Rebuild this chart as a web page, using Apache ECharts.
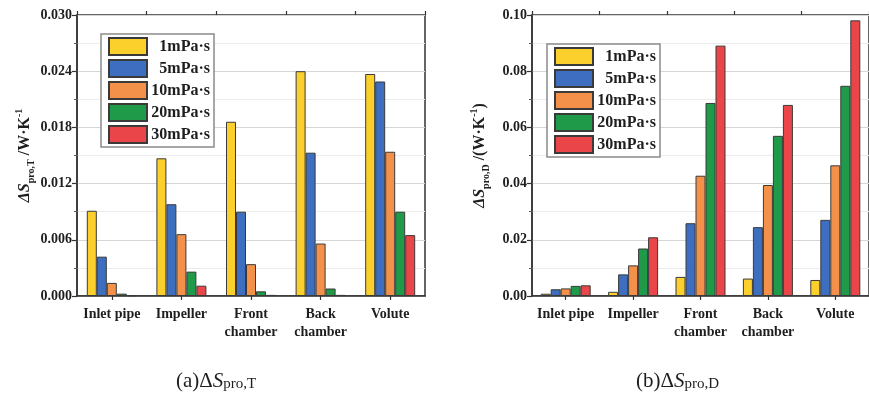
<!DOCTYPE html>
<html>
<head>
<meta charset="utf-8">
<script src="https://cdn.jsdelivr.net/npm/echarts@6/dist/echarts.min.js"></script>
<style>
  html, body { margin: 0; padding: 0; background: #fff; }
  #chart { width: 869px; height: 405px; }
</style>
</head>
<body>
<div id="chart"></div>
<script>
// Pump components on the x axis
const categories = ['Inlet pipe', 'Impeller', 'Front\nchamber', 'Back\nchamber', 'Volute'];
// Fluid viscosities (one bar series each)
const viscosities = ['1mPa·s', '5mPa·s', '10mPa·s', '20mPa·s', '30mPa·s'];
const barColors = ['#FBCF2C', '#3D6EC0', '#F3914B', '#1E9A48', '#EA4548'];

// (a) temperature-gradient entropy production, W/K
const sT_1  = [0.0091, 0.0147, 0.0186, 0.0240, 0.0237];
const sT_5  = [0.0042, 0.0098, 0.0090, 0.0153, 0.0229];
const sT_10 = [0.0014, 0.0066, 0.0034, 0.0056, 0.0154];
const sT_20 = [0.00025, 0.0026, 0.0005, 0.0008, 0.0090];
const sT_30 = [0.00008, 0.0011, 0.00012, 0.00012, 0.0065];

// (b) dissipation entropy production, W/K
const sD_1  = [0.0008, 0.0015, 0.0068, 0.0062, 0.0057];
const sD_5  = [0.0024, 0.0077, 0.0259, 0.0245, 0.0271];
const sD_10 = [0.0027, 0.0109, 0.0428, 0.0395, 0.0465];
const sD_20 = [0.0036, 0.0169, 0.0687, 0.0570, 0.0748];
const sD_30 = [0.0038, 0.0209, 0.0891, 0.0680, 0.0981];

// y-axis ranges
const yT = { max: 0.030, interval: 0.006, digits: 3 };
const yD = { max: 0.10, interval: 0.02, digits: 2 };

const SERIF = '"Liberation Serif", "DejaVu Serif", serif';
const INK = '#1e1e1e';

const seriesT = [sT_1, sT_5, sT_10, sT_20, sT_30];
const seriesD = [sD_1, sD_5, sD_10, sD_20, sD_30];

function nameRich() {
  return {
    d: { fontFamily: SERIF, fontSize: 16, fontWeight: 'bold', fontStyle: 'italic', color: INK, lineHeight: 22, verticalAlign: 'middle' },
    s: { fontFamily: SERIF, fontSize: 10, fontWeight: 'bold', color: INK, lineHeight: 20, verticalAlign: 'bottom' },
    n: { fontFamily: SERIF, fontSize: 16, fontWeight: 'bold', color: INK, lineHeight: 22, verticalAlign: 'middle' },
    p: { fontFamily: SERIF, fontSize: 10, fontWeight: 'bold', color: INK, lineHeight: 22, verticalAlign: 'top' }
  };
}

function yAxis(gridIndex, cfg, name) {
  return {
    type: 'value', gridIndex: gridIndex,
    min: 0, max: cfg.max, interval: cfg.interval,
    name: name, nameLocation: 'middle', nameRotate: 90, nameGap: 41,
    nameTextStyle: { rich: nameRich() },
    axisLine: { show: true, lineStyle: { color: '#333', width: 1.5 } },
    axisTick: { show: true, inside: false, length: 5, lineStyle: { color: '#333', width: 1.2 } },
    minorTick: { show: true, splitNumber: 2, length: 3, lineStyle: { color: '#555', width: 1 } },
    splitLine: { show: true, lineStyle: { color: '#d6d6d6', width: 1 } },
    minorSplitLine: { show: true, lineStyle: { color: '#ececec', width: 1 } },
    axisLabel: {
      fontFamily: SERIF, fontSize: 14, fontWeight: 'bold', color: INK, margin: 5,
      formatter: v => v.toFixed(cfg.digits)
    }
  };
}

function xAxes(gridIndex) {
  return [
    {
      type: 'category', gridIndex: gridIndex, data: categories,
      axisLine: { show: true, lineStyle: { color: '#333', width: 1.5 } },
      axisTick: { show: true, alignWithLabel: true, length: 4, lineStyle: { color: '#333', width: 1.2 } },
      axisLabel: { fontFamily: SERIF, fontSize: 14, fontWeight: 'bold', color: INK, margin: 9, lineHeight: 18, interval: 0 },
      splitLine: { show: false }
    },
    {
      // boundary ticks between components
      type: 'category', gridIndex: gridIndex, data: categories,
      axisLine: { show: false },
      axisTick: { show: true, alignWithLabel: false, length: 4, lineStyle: { color: '#333', width: 1.2 } },
      axisLabel: { show: false },
      splitLine: { show: false }
    }
  ];
}

function legend(left, top) {
  return {
    orient: 'vertical', left: left, top: top,
    data: viscosities.slice(),
    icon: 'rect', itemWidth: 38, itemHeight: 17, itemGap: 3,
    padding: [3, 4, 3, 7],
    backgroundColor: '#fff', borderColor: '#8a8a8a', borderWidth: 1.5,
    selectedMode: false,
    formatter: n => '{r|' + n + '}',
    textStyle: {
      rich: { r: { fontFamily: SERIF, fontSize: 16, fontWeight: 'bold', color: INK, width: 58, align: 'right' } }
    }
  };
}

function bars(gridIdx, data) {
  return viscosities.map((name, i) => ({
    type: 'bar', name: name,
    xAxisIndex: gridIdx * 2, yAxisIndex: gridIdx,
    data: data[i], barWidth: 10, barGap: '0%',
    itemStyle: { color: barColors[i], borderColor: '#3a3a3a', borderWidth: 1 },
    emphasis: { disabled: true }
  }));
}

const captionRich = {
  a: { fontFamily: SERIF, fontSize: 21, fontWeight: 'normal', color: INK, verticalAlign: 'bottom', lineHeight: 28 },
  i: { fontFamily: SERIF, fontSize: 21, fontWeight: 'normal', fontStyle: 'italic', color: INK, verticalAlign: 'bottom', lineHeight: 28 },
  s: { fontFamily: SERIF, fontSize: 15, fontWeight: 'normal', color: INK, verticalAlign: 'bottom', lineHeight: 15 }
};

const chart = echarts.init(document.getElementById('chart'), null, { renderer: 'canvas' });
chart.setOption({
  animation: false,
  backgroundColor: '#fff',
  grid: [
    { left: 77, top: 15, width: 348, height: 281, show: true, borderColor: '#333', borderWidth: 1.5, backgroundColor: 'transparent' },
    { left: 532, top: 15, width: 348, height: 281, show: true, borderColor: '#333', borderWidth: 1.5, backgroundColor: 'transparent' }
  ],
  title: [
    { text: '{a|(a)Δ}{i|S}{s|pro,T}', left: 176, top: 364, padding: 0, textStyle: { fontWeight: 'normal', rich: captionRich } },
    { text: '{a|(b)Δ}{i|S}{s|pro,D}', left: 636, top: 364, padding: 0, textStyle: { fontWeight: 'normal', rich: captionRich } }
  ],
  legend: [legend(101, 34), legend(547, 44)],
  xAxis: xAxes(0).concat(xAxes(1)),
  yAxis: [
    yAxis(0, yT, '{d|ΔS}{s|pro,T}{n| /W·K}{p|-1}'),
    yAxis(1, yD, '{d|ΔS}{s|pro,D}{n| /(W·K}{p|-1}{n|)}')
  ],
  series: bars(0, seriesT).concat(bars(1, seriesD))
});
</script>
</body>
</html>
